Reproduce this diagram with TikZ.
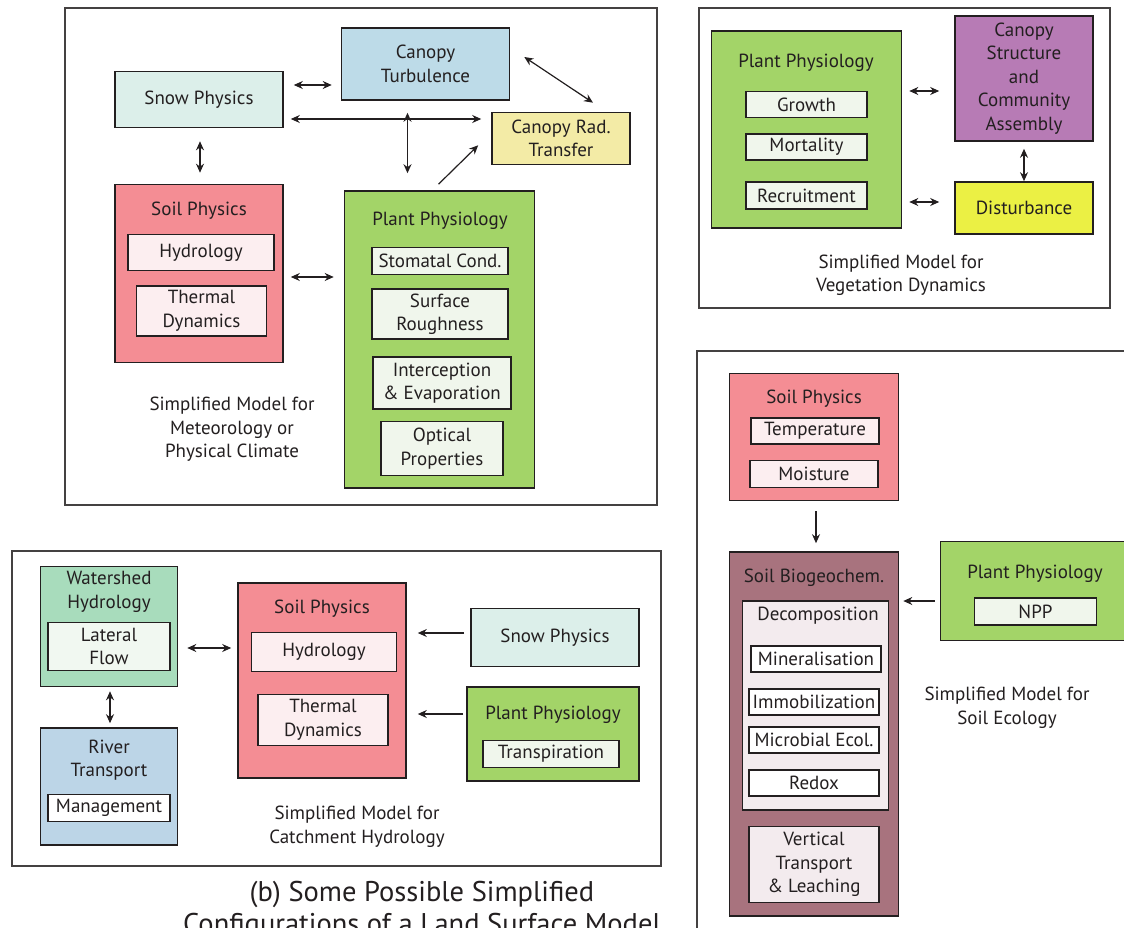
\documentclass[tikz,border=0pt]{standalone}
\usepackage{fontspec}
\setmainfont{PT Sans}
\usetikzlibrary{arrows.meta,calc}
\definecolor{inkc}{HTML}{231F20}
\definecolor{snowc}{HTML}{DCEFEA}
\definecolor{turbc}{HTML}{BDDBE8}
\definecolor{radc}{HTML}{F3EBA6}
\definecolor{soilc}{HTML}{F48D94}
\definecolor{soilsubc}{HTML}{FCEEF0}
\definecolor{plantc}{HTML}{A3D468}
\definecolor{plantsubc}{HTML}{F0F6EC}
\definecolor{purplec}{HTML}{B77BB5}
\definecolor{distc}{HTML}{EBF044}
\definecolor{shedc}{HTML}{A8DCBC}
\definecolor{shedsubc}{HTML}{F1F8F1}
\definecolor{riverc}{HTML}{BCD5E7}
\definecolor{bgcc}{HTML}{A8737E}
\definecolor{decompc}{HTML}{F3EBEE}
\begin{document}
\begin{tikzpicture}[x=1pt,y=-1pt,
txt/.style={inner sep=0pt,align=center,text=inkc,font=\fontsize{19}{23.5}\selectfont},
box/.style={txt,draw=inkc,line width=1.6pt},
sub/.style={box,line width=1.4pt},
panelframe/.style={draw=inkc!85,line width=1.5pt,inner sep=0pt},
dbl/.style={{Stealth[length=9pt,width=8pt]}-{Stealth[length=9pt,width=8pt]},line width=1.2pt,inkc},
sgl/.style={-{Stealth[length=9pt,width=8pt]},line width=1.2pt,inkc}]
\useasboundingbox (0,0) rectangle (1124,928);
\clip (0,0) rectangle (1124,928);
\fill[white] (0,0) rectangle (1124,928);
\node[panelframe,minimum width=592,minimum height=497] (metframe) at (361,256.5) {};
\node[box,fill=snowc,minimum width=168,minimum height=56] (snow) at (199,99.5) {Snow Physics};
\node[box,fill=turbc,minimum width=168,minimum height=72] (turb) at (425.5,64) {Canopy\\Turbulence};
\node[box,fill=radc,minimum width=138,minimum height=52] (rad) at (561,138.5) {Canopy Rad.\\Transfer};
\node[box,fill=soilc,minimum width=168,minimum height=178] (soil) at (199,273.5) {};
\node[txt] (soiltitle) at (199,211) {Soil Physics};
\node[sub,fill=soilsubc,minimum width=146,minimum height=36] (hydro) at (201,252.5) {Hydrology};
\node[sub,fill=soilsubc,minimum width=130,minimum height=50] (therm) at (201.5,311) {Thermal\\Dynamics};
\node[box,fill=plantc,minimum width=190,minimum height=297] (plant) at (439.5,339.5) {};
\node[txt] (planttitle) at (440,220.5) {Plant Physiology};
\node[sub,fill=plantsubc,minimum width=136,minimum height=27] (stom) at (440,261) {Stomatal Cond.};
\node[sub,fill=plantsubc,minimum width=136,minimum height=50] (rough) at (440,314) {Surface\\Roughness};
\node[sub,fill=plantsubc,minimum width=138,minimum height=52] (inter) at (442,383) {Interception\\\& Evaporation};
\node[sub,fill=plantsubc,minimum width=122,minimum height=54] (optic) at (442,448.5) {Optical\\Properties};
\node[txt] (metcap) at (232,429.5) {Simplified Model for\\Meteorology or\\Physical Climate};
\draw[dbl] ($(snow.east |- 0,85)+(10,0)$) -- ($(turb.west |- 0,85)+(-9,0)$);
\draw[dbl] ($(snow.east |- 0,119)+(7,0)$) -- ($(rad.west |- 0,119)+(-10,0)$);
\draw[dbl] ($(turb.south -| 407.5,0)+(0,12)$) -- ($(plant.north -| 407.5,0)+(0,-17)$);
\draw[dbl] ($(turb.east)+(14,-7)$) -- ($(rad.north)+(32,-9)$);
\draw[sgl] ($(plant.north)+(-1,-6)$) -- ($(rad.south west)+(-13,-20)$);
\draw[dbl] ($(snow.south)+(1,13)$) -- ($(soil.north)+(1,-11)$);
\draw[dbl] ($(soil.east |- 0,277)+(7,0)$) -- ($(plant.west |- 0,277)+(-10,0)$);
\node[panelframe,minimum width=411,minimum height=300] (vegframe) at (904.5,158) {};
\node[box,fill=plantc,minimum width=190,minimum height=197] (vplant) at (806.5,129.5) {};
\node[txt] (vplanttitle) at (806,63) {Plant Physiology};
\node[sub,fill=plantsubc,minimum width=121,minimum height=26] (growth) at (806.5,104.5) {Growth};
\node[sub,fill=plantsubc,minimum width=121,minimum height=26] (mort) at (806.5,147) {Mortality};
\node[sub,fill=plantsubc,minimum width=121,minimum height=27] (recruit) at (806.5,195.5) {Recruitment};
\node[box,fill=purplec,minimum width=138,minimum height=125] (cstruct) at (1024,78.5) {Canopy\\Structure\\and\\Community\\Assembly};
\node[box,fill=distc,minimum width=138,minimum height=52] (dist) at (1024,208) {Disturbance};
\node[txt] (vegcap) at (901,275) {Simplified Model for\\Vegetation Dynamics};
\draw[dbl] ($(vplant.east |- 0,91)+(7,0)$) -- ($(cstruct.west |- 0,91)+(-15,0)$);
\draw[dbl] ($(vplant.east |- 0,202)+(7,0)$) -- ($(dist.west |- 0,202)+(-15,0)$);
\draw[dbl] ($(cstruct.south)+(0,7)$) -- (dist.north);
\node[panelframe,minimum width=649,minimum height=315] (catchframe) at (336.5,708.5) {};
\node[box,fill=shedc,minimum width=137,minimum height=120] (wshed) at (109,626.5) {};
\node[txt] (wshedtitle) at (109,592) {Watershed\\Hydrology};
\node[sub,fill=shedsubc,minimum width=122,minimum height=48] (lateral) at (109,646.5) {Lateral\\Flow};
\node[box,fill=riverc,minimum width=137,minimum height=117] (river) at (109,786.5) {};
\node[txt] (rivertitle) at (109,760) {River\\Transport};
\node[sub,fill=white,minimum width=122,minimum height=27] (manage) at (109,808) {Management};
\node[box,fill=soilc,minimum width=168,minimum height=195] (csoil) at (322,680.5) {};
\node[txt] (csoiltitle) at (322,609) {Soil Physics};
\node[sub,fill=soilsubc,minimum width=145,minimum height=39] (chydro) at (324,652) {Hydrology};
\node[sub,fill=soilsubc,minimum width=130,minimum height=51] (ctherm) at (323,720) {Thermal\\Dynamics};
\node[box,fill=snowc,minimum width=168,minimum height=58] (csnow) at (555,637.5) {Snow Physics};
\node[box,fill=plantc,minimum width=172,minimum height=94] (cplant) at (553,734) {};
\node[txt] (cplanttitle) at (553,715) {Plant Physiology};
\node[sub,fill=plantsubc,minimum width=136,minimum height=27] (transp) at (551,754) {Transpiration};
\node[txt] (catchcap) at (357,826.5) {Simplified Model for\\Catchment Hydrology};
\draw[dbl] ($(wshed.east |- 0,648)+(9,0)$) -- ($(csoil.west |- 0,648)+(-6,0)$);
\draw[dbl] ($(wshed.south)+(1,4)$) -- ($(river.north)+(1,-4)$);
\draw[sgl] ($(csnow.west |- 0,633)+(-6,0)$) -- ($(csoil.east |- 0,633)+(11,0)$);
\draw[sgl] ($(cplant.west |- 0,714)+(-3,0)$) -- ($(csoil.east |- 0,714)+(11,0)$);
\node[panelframe,minimum width=443,minimum height=594] (ecoframe) at (918.5,648) {};
\node[box,fill=soilc,minimum width=169,minimum height=127] (esoil) at (814,437) {};
\node[txt] (esoiltitle) at (814,399) {Soil Physics};
\node[sub,fill=soilsubc,minimum width=128,minimum height=26] (temp) at (815,431) {Temperature};
\node[sub,fill=soilsubc,minimum width=128,minimum height=27] (moist) at (814,474) {Moisture};
\node[box,fill=bgcc,minimum width=169,minimum height=364] (bgc) at (814,734) {};
\node[txt] (bgctitle) at (814,578) {Soil Biogeochem.};
\node[sub,fill=decompc,minimum width=146,minimum height=209] (decomp) at (815.5,705.5) {};
\node[txt] (decomptitle) at (818,615.5) {Decomposition};
\node[sub,fill=white,minimum width=130,minimum height=26] (miner) at (816,659) {Mineralisation};
\node[sub,fill=white,minimum width=130,minimum height=26] (immob) at (814,702) {Immobilization};
\node[sub,fill=white,minimum width=130,minimum height=26] (microb) at (814,740) {Microbial Ecol.};
\node[sub,fill=white,minimum width=130,minimum height=26] (redox) at (814,783) {Redox};
\node[sub,fill=decompc,minimum width=130,minimum height=76] (vert) at (814,864.5) {Vertical\\Transport\\\& Leaching};
\node[box,fill=plantc,minimum width=220,minimum height=99] (eplant) at (1050.5,591) {};
\node[txt] (eplanttitle) at (1035,574) {Plant Physiology};
\node[sub,fill=plantsubc,minimum width=122,minimum height=27] (npp) at (1035.5,611.5) {NPP};
\node[txt] (ecocap) at (1007,707.5) {Simplified Model for\\Soil Ecology};
\draw[sgl] ($(esoil.south)+(2,10)$) -- ($(bgc.north)+(2,-8)$);
\draw[sgl] ($(eplant.west |- 0,601)+(-5,0)$) -- ($(bgc.east |- 0,601)+(4,0)$);
\node[txt,font=\fontsize{28.5}{32}\selectfont] (bigcap) at (422,910) {(b) Some Possible Simplified\\Configurations of a Land Surface Model};
\end{tikzpicture}
\end{document}
